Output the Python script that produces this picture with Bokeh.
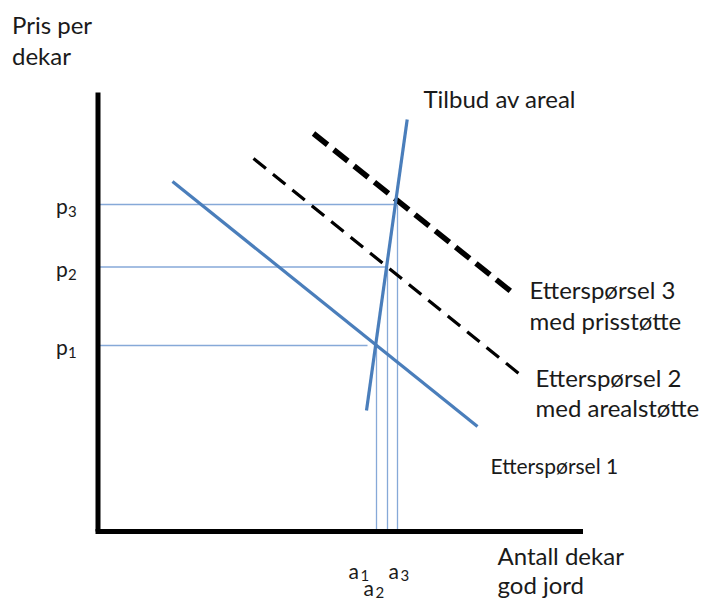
from bokeh.plotting import figure
from bokeh.models import Range1d
from bokeh.embed import file_html
from bokeh.resources import INLINE
from bokeh.core.properties import value

# Conceptual supply/demand diagram (abstract units, origin at axis corner)
demand1_q = [74.5, 379.5]
demand1_p = [350, 105]
demand2_q = [155.5, 424.5]
demand2_p = [373, 155]
demand3_q = [215.5, 415.5]
demand3_p = [398, 238]
supply_q = [268.5, 309.2]
supply_p = [121, 412]

price_levels = [186, 264.5, 327]          # p1, p2, p3
price_guide_end = [269.5, 287.5, 298.5]
qty_levels = [278.5, 289.5, 299.5]        # a1, a2, a3
price_labels = ["1", "2", "3"]
qty_labels = ["1", "2", "3"]

x_axis_end = 485
y_axis_end = 439

FONT = value("Lato")
TXT = "#1a1a1a"
BLUE = "#4a7ebb"
GUIDE = "#86a9d8"

p = figure(width=709, height=601, output_backend="svg", toolbar_location=None,
           x_range=Range1d(-97.5, 611.5), y_range=Range1d(-70, 531),
           min_border=0, outline_line_color=None)
p.xaxis.visible = False
p.yaxis.visible = False
p.xgrid.visible = False
p.ygrid.visible = False

# guide lines
for pl, pe in zip(price_levels, price_guide_end):
    p.line([0, pe], [pl, pl], line_color=GUIDE, line_width=1.3)
for ql, pl in zip(qty_levels, price_levels):
    p.line([ql, ql], [0, pl], line_color=GUIDE, line_width=1.3)

# axes
p.line([0, 0], [0, y_axis_end], line_color="black", line_width=5)
p.line([-2.5, x_axis_end], [0, 0], line_color="black", line_width=5)

# curves
p.line(demand1_q, demand1_p, line_color=BLUE, line_width=3.2)
p.line(demand2_q, demand2_p, line_color="black", line_width=3.2, line_dash="16 9")
p.line(demand3_q, demand3_p, line_color="black", line_width=5.5, line_dash="18 8")
p.line(supply_q, supply_p, line_color=BLUE, line_width=3.2)

def txt(x, y, s, size="24px", align="left"):
    p.text(x=[x], y=[y], text=[s], text_font=FONT, text_font_size=size,
           text_color=TXT, text_baseline="alphabetic", text_align=align)

# axis titles
txt(-86, 507, "Pris per")
txt(-86, 476, "dekar")
txt(399.5, -24, "Antall dekar")
txt(399.5, -53, "god jord")

# curve labels
txt(325.5, 433, "Tilbud av areal")
txt(431.5, 242, "Etterspørsel 3")
txt(431.5, 211, "med prisstøtte")
txt(437.5, 154, "Etterspørsel 2")
txt(437.5, 124, "med arealstøtte")
txt(392.5, 66, "Etterspørsel 1", size="21px")

# price labels p1..p3
for pl, lab in zip(price_levels, price_labels):
    txt(-42, pl - 1, "p", size="21px")
    txt(-30, pl - 7, lab, size="15px")

# quantity labels a1..a3
qx = [250.5, 265.5, 290.5]
qy = [-39, -56, -39]
for x, y, lab in zip(qx, qy, qty_labels):
    txt(x, y, "a", size="21px")
    txt(x + 12, y - 5, lab, size="15px")

open("out.html", "w").write(file_html(p, INLINE))
